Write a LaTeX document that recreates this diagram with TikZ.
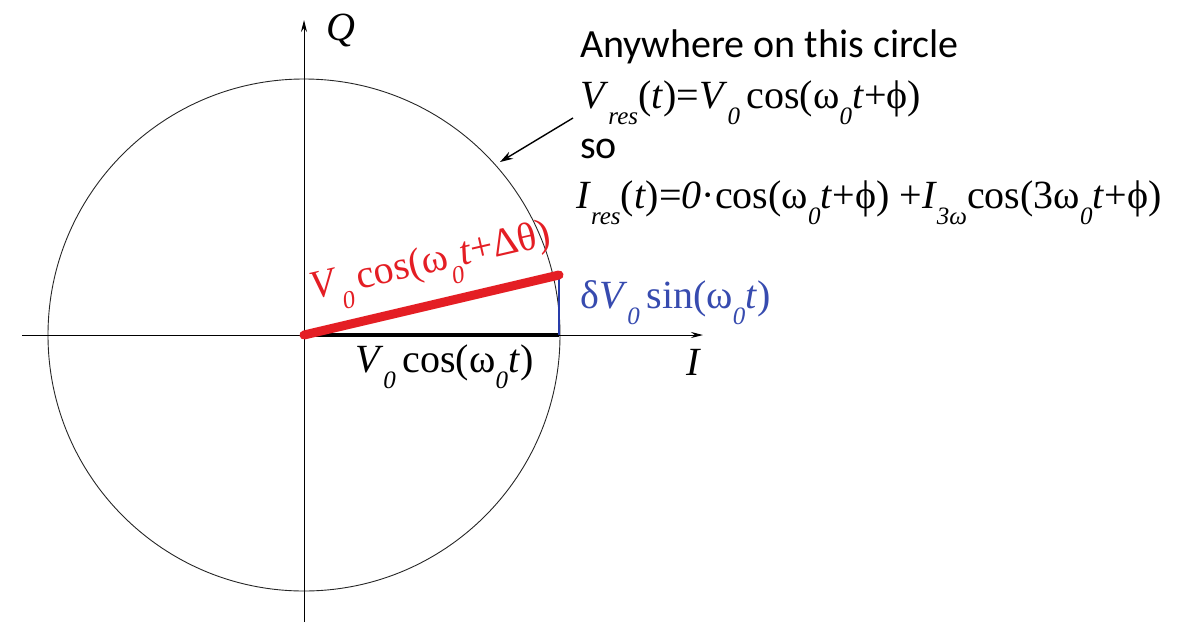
\documentclass[tikz,border=0pt]{standalone}
\usepackage{fontspec}
\setmainfont{Liberation Serif}
\newfontfamily\calibfont{Carlito}
\usetikzlibrary{arrows.meta}
\definecolor{vecred}{RGB}{228,30,36}
\definecolor{vecblue}{RGB}{40,60,170}
\definecolor{lblblue}{RGB}{55,75,175}
\newcommand{\sbs}[1]{\raisebox{-0.42em}{\fontsize{25}{25}\selectfont\itshape #1}}

\begin{document}
\begin{tikzpicture}[
    x=1pt, y=-1pt,
    >=Stealth,
    axis/.style={line width=1pt, -{Stealth[length=12pt,width=6pt]}},
    eqn/.style={inner sep=0pt, font=\fontsize{40}{44}\selectfont},
    note/.style={inner sep=0pt, font=\calibfont\fontsize{40}{44}\selectfont}
  ]
  \useasboundingbox (0,0) rectangle (1186,622);

  % points of the phasor diagram
  \coordinate (O) at (304,335);
  \coordinate (P) at (559,275);
  \coordinate (F) at (559,335);
  \coordinate (Ileft) at (22,335);
  \coordinate (Iright) at (703,335);
  \coordinate (Qlow) at (304,622);
  \coordinate (Qtop) at (304,20);

  % circle and axes
  \draw[line width=0.9pt, black!85] (O) circle[radius=256];
  \draw[axis] (Ileft) -- (Iright);
  \draw[axis] (Qlow) -- (Qtop);
  \node[eqn, font=\fontsize{40}{44}\selectfont\itshape] (qlbl) at (341,30) {Q};
  \node[eqn, font=\fontsize{40}{44}\selectfont\itshape] (ilbl) at (693,362) {I};

  % vectors
  \draw[line width=4pt] (O) -- (F);
  \draw[line width=2.5pt, vecblue] (F) -- (P);
  \draw[line width=9pt, vecred, line cap=round] (O) -- (P);

  % labels of the vectors
  \node[eqn, text=vecred, anchor=base west, rotate=13] (redlbl) at (313,300)
    {\textit{V}\sbs{0}\,cos(ω\sbs{0}\textit{t}+Δθ)};
  \node[eqn, text=lblblue, anchor=base west] (bluelbl) at (580,308)
    {δ\textit{V}\sbs{0}\,sin(ω\sbs{0}\textit{t})};
  \node[eqn, anchor=base west] (blacklbl) at (355,372)
    {\textit{V}\sbs{0}\,cos(ω\sbs{0}\textit{t})};

  % text on the right
  \node[note, anchor=base west] (any) at (580,57) {Anywhere on this circle};
  \node[eqn, anchor=base west] (vres) at (580,108)
    {\textit{V}\sbs{res}(\textit{t})=\textit{V}\sbs{0}\,cos(ω\sbs{0}\textit{t}+ϕ)};
  \node[note, anchor=base west] (so) at (580,158) {so};
  \node[eqn, anchor=base west] (ires) at (576,208)
    {\textit{I}\sbs{res}(\textit{t})=\textit{0}·cos(ω\sbs{0}\textit{t}+ϕ) +\textit{I}\sbs{3ω}cos(3ω\sbs{0}\textit{t}+ϕ)};

  \coordinate (ptr) at (573,118);
  \coordinate (oncircle) at (500,162);
  \draw[line width=1.4pt, -{Stealth[length=13pt,width=8pt]}] (ptr) -- (oncircle);
\end{tikzpicture}
\end{document}
